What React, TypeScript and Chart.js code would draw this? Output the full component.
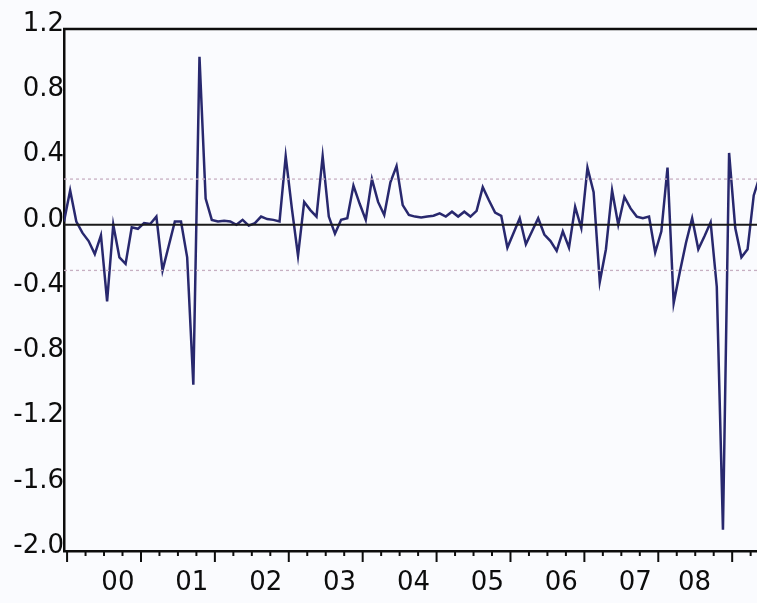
import React, { useEffect, useRef } from "react";
import { Chart, registerables } from "chart.js";

Chart.register(...registerables);

// Monthly residual series (index 0 = first month shown)
const RESIDUALS: number[] = [
  0.02, 0.21, 0.02, -0.05, -0.1, -0.18, -0.065, -0.47, 0.0, -0.2,
  -0.24, -0.015, -0.025, 0.01, 0.005, 0.05, -0.28, -0.13, 0.02, 0.02,
  -0.2, -0.98, 1.03, 0.16, 0.03, 0.02, 0.025, 0.02, 0.0, 0.03,
  -0.005, 0.01, 0.05, 0.035, 0.03, 0.02, 0.42, 0.1, -0.19, 0.14,
  0.09, 0.05, 0.42, 0.05, -0.055, 0.03, 0.04, 0.24, 0.13, 0.03,
  0.28, 0.14, 0.06, 0.26, 0.36, 0.12, 0.06, 0.05, 0.045, 0.05,
  0.055, 0.07, 0.05, 0.08, 0.05, 0.08, 0.05, 0.085, 0.23, 0.15,
  0.075, 0.055, -0.14, -0.05, 0.04, -0.12, -0.04, 0.04, -0.06, -0.1,
  -0.16, -0.04, -0.14, 0.11, -0.02, 0.35, 0.2, -0.35, -0.15, 0.21,
  0.0, 0.17, 0.1, 0.05, 0.04, 0.05, -0.17, -0.04, 0.35, -0.48,
  -0.29, -0.11, 0.04, -0.15, -0.07, 0.015, -0.38, -1.87, 0.44, -0.02,
  -0.2, -0.15, 0.18, 0.3,
];

const YEAR_LABELS = ["00", "01", "02", "03", "04", "05", "06", "07", "08"];
const YEAR_LABEL_AT = [8.75, 20.75, 32.75, 44.75, 56.75, 68.75, 80.75, 92.75, 102.4];
const Y_TICKS = [-2.0, -1.6, -1.2, -0.8, -0.4, 0.0, 0.4, 0.8, 1.2];
const BAND = 0.28;
const ZERO = 0;
const X_MIN = 0;
const X_MAX = 120;
const FIRST_YEAR_TICK = 0.5;
const MONTHS_PER_QUARTER = 3;
const MONTHS_PER_YEAR = 12;

const FONT = "'DejaVu Sans', sans-serif";

export default function App() {
  const ref = useRef<HTMLCanvasElement | null>(null);

  useEffect(() => {
    if (!ref.current) return;

    const framePlugin = {
      id: "frame",
      beforeDraw(chart: any) {
        const ctx = chart.ctx;
        ctx.save();
        ctx.fillStyle = "#fafbfe";
        ctx.fillRect(0, 0, chart.width, chart.height);
        ctx.restore();
      },
      afterDraw(chart: any) {
        const ctx = chart.ctx;
        const area = chart.chartArea;
        const xs = chart.scales.x;
        ctx.save();
        ctx.strokeStyle = "#0d0d0d";
        ctx.lineWidth = 2.5;
        // top border
        ctx.beginPath();
        ctx.moveTo(area.left - 1, area.top);
        ctx.lineTo(area.right, area.top);
        ctx.stroke();
        // quarterly / yearly tick marks below the axis
        ctx.lineWidth = 2;
        for (let t = FIRST_YEAR_TICK, q = 0; t <= X_MAX; t += MONTHS_PER_QUARTER, q++) {
          const px = xs.getPixelForValue(t);
          const major = q % (MONTHS_PER_YEAR / MONTHS_PER_QUARTER) === 0;
          ctx.beginPath();
          ctx.moveTo(px, area.bottom);
          ctx.lineTo(px, area.bottom + (major ? 11 : 5));
          ctx.stroke();
        }
        ctx.restore();
      },
    };

    const series = RESIDUALS.map((v, i) => ({ x: i, y: v }));
    const flat = (v: number) => [
      { x: X_MIN, y: v },
      { x: X_MAX, y: v },
    ];

    const chart = new Chart(ref.current, {
      type: "line",
      data: {
        datasets: [
          {
            data: flat(BAND),
            borderColor: "#c7b0c2",
            borderWidth: 1.3,
            borderDash: [3, 3],
            pointRadius: 0,
          },
          {
            data: flat(-BAND),
            borderColor: "#c7b0c2",
            borderWidth: 1.3,
            borderDash: [3, 3],
            pointRadius: 0,
          },
          {
            data: flat(ZERO),
            borderColor: "#1a1a1a",
            borderWidth: 1.8,
            pointRadius: 0,
          },
          {
            data: series,
            borderColor: "#28286e",
            borderWidth: 2.5,
            pointRadius: 0,
            tension: 0,
          },
        ],
      },
      options: {
        animation: false,
        responsive: false,
        devicePixelRatio: 1,
        layout: { padding: { top: 29, right: 0, left: 0, bottom: 0 } },
        plugins: {
          legend: { display: false },
          tooltip: { enabled: false },
        },
        scales: {
          x: {
            type: "linear",
            min: X_MIN,
            max: X_MAX,
            border: { display: true, color: "#0d0d0d", width: 2.5 },
            grid: { display: false, drawTicks: false },
            afterBuildTicks: (scale: any) => {
              scale.ticks = YEAR_LABEL_AT.map((v) => ({ value: v }));
            },
            afterFit: (scale: any) => {
              scale.height = 52;
            },
            ticks: {
              autoSkip: false,
              maxRotation: 0,
              padding: 17,
              color: "#0d0d0d",
              font: { family: FONT, size: 26 },
              callback: (_v: any, i: number) => YEAR_LABELS[i],
            },
          },
          y: {
            type: "linear",
            min: -2.0,
            max: 1.2,
            border: { display: true, color: "#0d0d0d", width: 2.5 },
            grid: { display: false, drawTicks: false },
            afterBuildTicks: (scale: any) => {
              scale.ticks = Y_TICKS.map((v) => ({ value: v }));
            },
            afterFit: (scale: any) => {
              scale.width = 64;
            },
            ticks: {
              padding: 0,
              labelOffset: -5,
              color: "#0d0d0d",
              font: { family: FONT, size: 26 },
              callback: (v: any) => Number(v).toFixed(1),
            },
          },
        },
      },
      plugins: [framePlugin],
    } as any);

    return () => chart.destroy();
  }, []);

  return (
    <div
      style={{
        position: "fixed",
        left: 0,
        top: 0,
        width: 757,
        height: 603,
        overflow: "hidden",
        background: "#fafbfe",
      }}
    >
      <canvas ref={ref} width={803} height={603} style={{ width: 803, height: 603, display: "block" }} />
    </div>
  );
}
